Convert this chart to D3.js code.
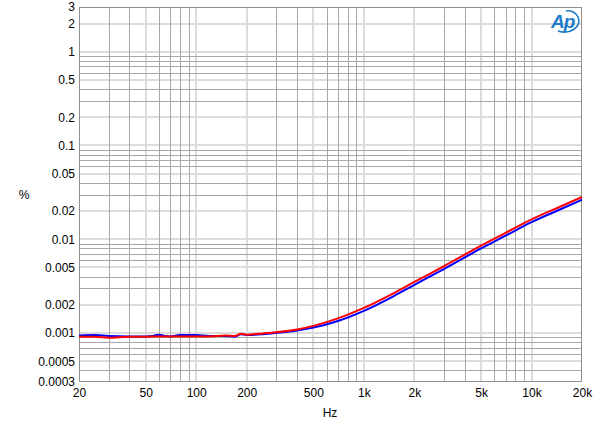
<!DOCTYPE html>
<html><head><meta charset="utf-8">
<script src="https://cdn.jsdelivr.net/npm/d3@7"></script>
<style>body{margin:0;background:#fff}svg{display:block}text{font-family:"Liberation Sans",Arial,sans-serif}</style>
</head><body><svg id="c" width="600" height="426"></svg>
<script>
const xTickVals = [20,50,100,200,500,1000,2000,5000,10000,20000];
const xTickLabels = ["20","50","100","200","500","1k","2k","5k","10k","20k"];
const yTickVals = [0.0003,0.0005,0.001,0.002,0.005,0.01,0.02,0.05,0.1,0.2,0.5,1,2,3];
const yTickLabels = ["0.0003","0.0005","0.001","0.002","0.005","0.01","0.02","0.05","0.1","0.2","0.5","1","2","3"];

const blueFreq = [20,25,30,40,50,55,60,65,70,80,100,120,150,170,185,200,250,300,400,500,700,1000,1500,2000,3000,5000,7000,10000,15000,20000];
const blueVal  = [0.00094,0.00095,0.00093,0.00092,0.00092,0.00093,0.00096,0.00093,0.00092,0.00095,0.00095,0.00093,0.00093,0.00091,0.00097,0.00095,0.00097,0.00100,0.00106,0.00114,0.00134,0.00172,0.00246,0.00326,0.00480,0.00797,0.0109,0.0152,0.0210,0.0264];
const redFreq  = [20,25,30,35,40,50,60,70,80,100,120,150,170,185,200,250,300,400,500,700,1000,1500,2000,3000,5000,7000,10000,15000,20000];
const redVal   = [0.00091,0.00091,0.00089,0.00090,0.00091,0.00091,0.00092,0.00092,0.00092,0.00092,0.00092,0.00094,0.00093,0.00098,0.00096,0.00099,0.00102,0.00109,0.00119,0.00143,0.00185,0.00265,0.00350,0.00515,0.00855,0.0117,0.0163,0.0225,0.0282];

const L=79,R=582,T=7,B=382;
const svg=d3.select("#c");
const x=d3.scaleLog().domain([20,20000]).range([L,R]);
const y=d3.scaleLog().domain([0.0003,3]).range([B,T]);

// grid
const xMinor=[], yMinor=[];
for(let d=10; d<=10000; d*=10) for(let m=1;m<=9;m++){const v=m*d; if(v>20&&v<20000&&!xTickVals.includes(v)) xMinor.push(v);}
for(let d=0.0001; d<=1.001; d*=10) for(let m=1;m<=9;m++){const v=+(m*d).toPrecision(3); if(v>0.0003&&v<3&&!yTickVals.some(t=>Math.abs(t-v)<1e-9)) yMinor.push(v);}
const g=svg.append("g");
g.selectAll(".xmaj").data(xTickVals.slice(1,-1)).join("line").attr("x1",d=>Math.round(x(d))).attr("x2",d=>Math.round(x(d))).attr("y1",T).attr("y2",B).attr("stroke","#dcdcdc").attr("stroke-width",2);
g.selectAll(".ymaj").data(yTickVals.slice(1,-1)).join("line").attr("y1",d=>Math.round(y(d))).attr("y2",d=>Math.round(y(d))).attr("x1",L).attr("x2",R).attr("stroke","#dcdcdc").attr("stroke-width",2);
g.selectAll(".xmin").data(xMinor).join("line").attr("x1",d=>Math.round(x(d))+0.5).attr("x2",d=>Math.round(x(d))+0.5).attr("y1",T).attr("y2",B).attr("stroke","#a8a8a8").attr("stroke-width",1);
g.selectAll(".ymin").data(yMinor).join("line").attr("y1",d=>Math.round(y(d))+0.5).attr("y2",d=>Math.round(y(d))+0.5).attr("x1",L).attr("x2",R).attr("stroke","#a8a8a8").attr("stroke-width",1);
svg.append("rect").attr("x",L+0.5).attr("y",T+0.5).attr("width",R-L-1).attr("height",B-T-1).attr("fill","none").attr("stroke","#909090").attr("stroke-width",1);

// axes labels
const xa=d3.axisBottom(x).tickValues(xTickVals).tickFormat((d,i)=>xTickLabels[i]).tickSize(0).tickPadding(6);
const xg=svg.append("g").attr("transform",`translate(0,${B})`).call(xa);
xg.select(".domain").remove();
xg.selectAll("text").attr("font-size",12).attr("fill","#000").style("font-family","Liberation Sans, Arial, sans-serif");
const ya=d3.axisLeft(y).tickValues(yTickVals).tickFormat((d,i)=>yTickLabels[i]).tickSize(0).tickPadding(4);
const yg=svg.append("g").attr("transform",`translate(${L},0)`).call(ya);
yg.select(".domain").remove();
yg.selectAll("text").attr("font-size",12).attr("fill","#000").style("font-family","Liberation Sans, Arial, sans-serif");

svg.append("text").attr("x",24).attr("y",199).attr("text-anchor","middle").attr("font-size",12).text("%");
svg.append("text").attr("x",330).attr("y",417).attr("text-anchor","middle").attr("font-size",12).text("Hz");

// curves
const line=d3.line().x(d=>x(d[0])).y(d=>y(d[1])).curve(d3.curveMonotoneX);
svg.append("path").attr("d",line(blueFreq.map((f,i)=>[f,blueVal[i]]))).attr("fill","none").attr("stroke","#0000ff").attr("stroke-width",2);
svg.append("path").attr("d",line(redFreq.map((f,i)=>[f,redVal[i]]))).attr("fill","none").attr("stroke","#ff0000").attr("stroke-width",2);

// Ap logo
const lg=svg.append("g").attr("transform","translate(548,9)");
lg.append("text").attr("x",3).attr("y",19).attr("font-size",19).attr("font-style","italic").attr("font-weight","bold").attr("fill","#1e7cc8").style("font-family","Liberation Sans, Arial, sans-serif").attr("letter-spacing",-1).text("Ap");
lg.append("path").attr("d","M10,22 C22,26 34,18 30,8 C28,3 22,1 18,2").attr("fill","none").attr("stroke","#1e7cc8").attr("stroke-width",1.6);
</script></body></html>
